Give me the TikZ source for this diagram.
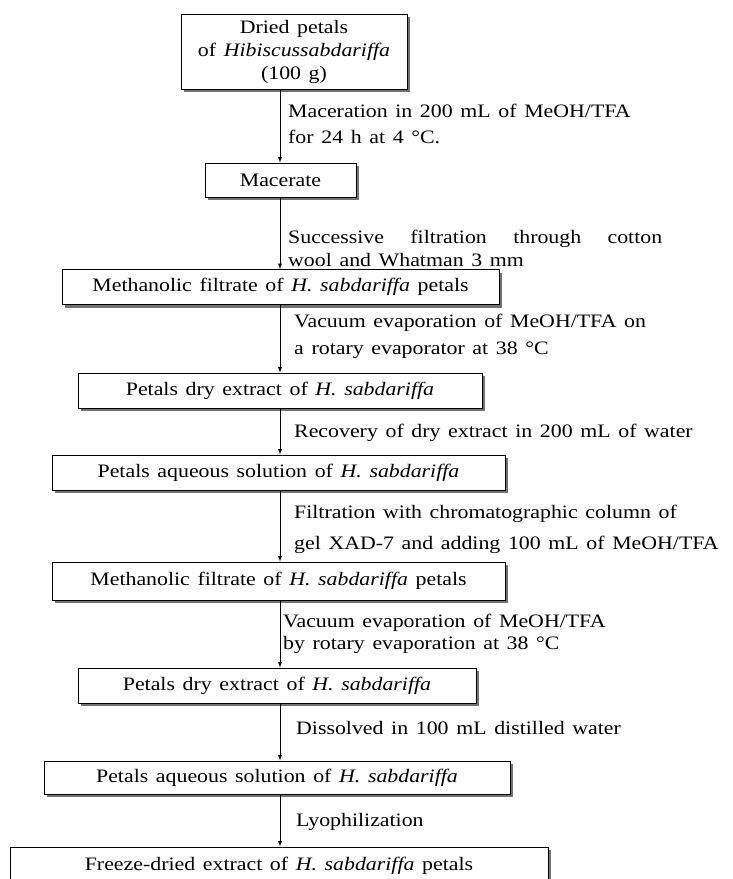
\documentclass[tikz,border=0pt]{standalone}
\usepackage{fontspec}
\setmainfont{Liberation Serif}[FakeStretch=1.15, WordSpace=1.4]
\usetikzlibrary{shadows}
\definecolor{shadowgray}{rgb}{0.45,0.45,0.45}

\begin{document}
\begin{tikzpicture}[x=1pt, y=-1pt, >=latex,
    every node/.style = {font=\fontsize{19}{23}\selectfont},
      stage/.style = {draw, fill=white, line width=1pt, inner sep=0pt, minimum height=35pt,
        drop shadow={shadow xshift=3pt, shadow yshift=-3pt, fill=shadowgray, opacity=1}},
      note/.style = {anchor=west, align=left, inner sep=0pt},
      flow/.style = {->, line width=0.9pt}
    ]
    \useasboundingbox (0,0) rectangle (732,879);
    \coordinate (axis) at (280,0);

    \node[stage, minimum width=226pt, minimum height=75pt, align=center] (dried) at (294,51.5)
        {Dried petals\\ of \textit{Hibiscussabdariffa}\\ (100 g)};
    \node[stage, minimum width=151pt, minimum height=34pt] (macerate) at (280.5,180) {Macerate};
    \node[stage, minimum width=437pt] (filtrateA) at (280.5,287)
        {Methanolic filtrate of \textit{H. sabdariffa} petals};
    \node[stage, minimum width=404pt] (dryA) at (280,390.5)
        {Petals dry extract of \textit{H. sabdariffa}};
    \node[stage, minimum width=453pt] (aqueousA) at (278.5,472.5)
        {Petals aqueous solution of \textit{H. sabdariffa}};
    \node[stage, minimum width=453pt, minimum height=38pt] (filtrateB) at (278.5,581)
        {Methanolic filtrate of \textit{H. sabdariffa} petals};
    \node[stage, minimum width=398pt] (dryB) at (277,685.5)
        {Petals dry extract of \textit{H. sabdariffa}};
    \node[stage, minimum width=466pt, minimum height=33pt] (aqueousB) at (277,777.5)
        {Petals aqueous solution of \textit{H. sabdariffa}};
    \node[stage, minimum width=538pt, minimum height=38pt] (freeze) at (279,866)
        {Freeze-dried extract of \textit{H. sabdariffa} petals};

    \draw[flow] (dried.south -| axis) -- (macerate.north -| axis);
    \draw[flow] (macerate.south -| axis) -- (filtrateA.north -| axis);
    \draw[flow] (filtrateA.south -| axis) -- (dryA.north -| axis);
    \draw[flow] (dryA.south -| axis) -- (aqueousA.north -| axis);
    \draw[flow] (aqueousA.south -| axis) -- (filtrateB.north -| axis);
    \draw[flow] (filtrateB.south -| axis) -- (dryB.north -| axis);
    \draw[flow] (dryB.south -| axis) -- (aqueousB.north -| axis);
    \draw[flow] (aqueousB.south -| axis) -- (freeze.north -| axis);

    \node[note] (maceration) at (288,124)
        {Maceration in 200 mL of MeOH/TFA\\[3pt] for 24 h at 4 °C.};
    \node[note, text width=374pt, align=justify] (filtration) at (288,248.5)
        {Successive filtration through cotton\linebreak wool and Whatman 3 mm};
    \node[note] (vacuumA) at (294,336.5)
        {Vacuum evaporation of MeOH/TFA on\\[4pt] a rotary evaporator at 38 °C};
    \node[note] (recovery) at (294,433)
        {Recovery of dry extract in 200 mL of water};
    \node[note] (column) at (294,529.5)
        {Filtration with chromatographic column of\\[8pt] gel XAD-7 and adding 100 mL of MeOH/TFA};
    \node[note] (vacuumB) at (283,634)
        {Vacuum evaporation of MeOH/TFA\\[-1pt] by rotary evaporation at 38 °C};
    \node[note] (dissolved) at (296,728)
        {Dissolved in 100 mL distilled water};
    \node[note] (lyophil) at (296,822)
        {Lyophilization};
\end{tikzpicture}
\end{document}
